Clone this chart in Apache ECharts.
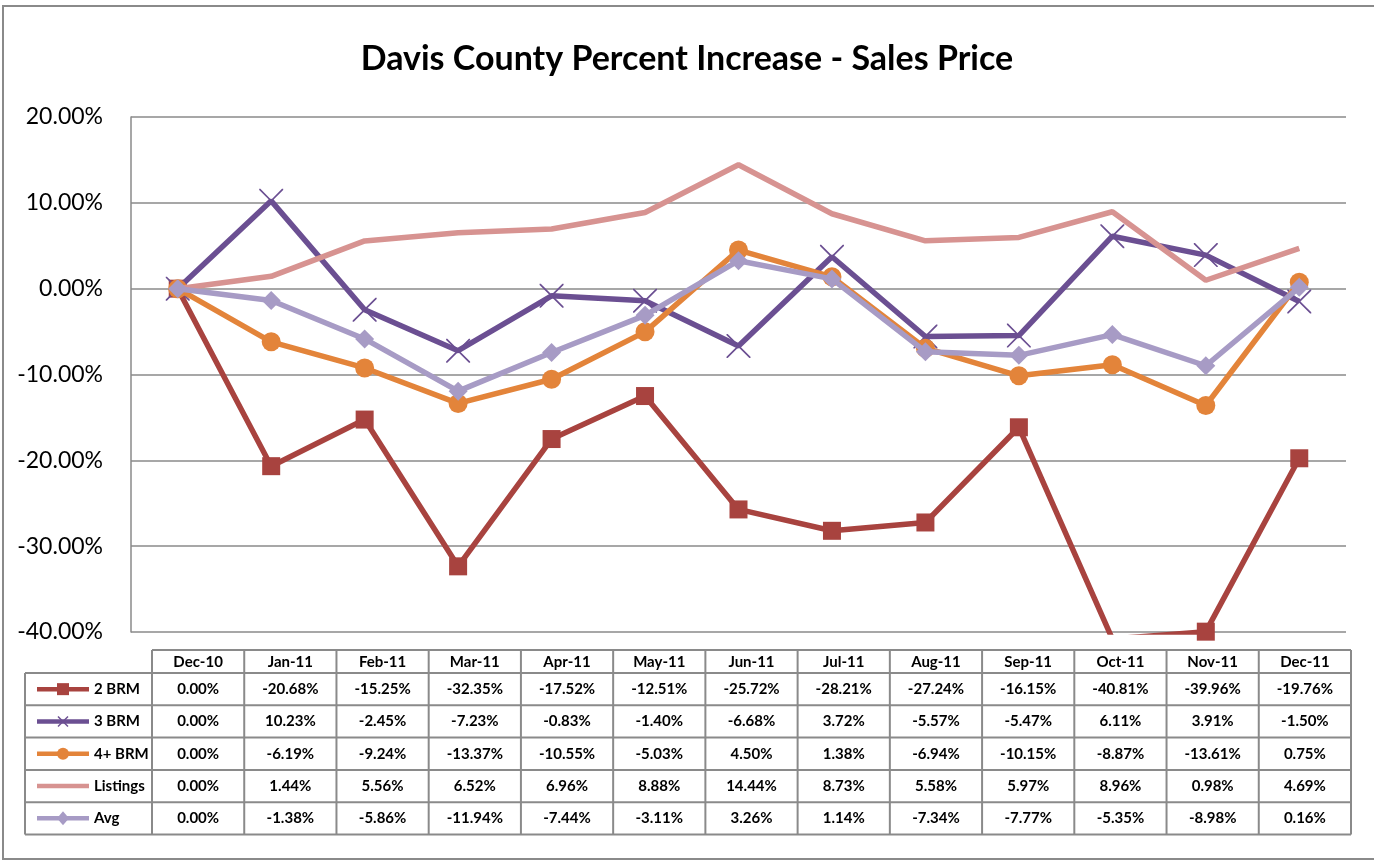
<!DOCTYPE html>
<html>
<head>
<meta charset="utf-8">
<title>Davis County Percent Increase - Sales Price</title>
<script src="https://cdn.jsdelivr.net/npm/echarts@6/dist/echarts.min.js"></script>
<style>
  html, body { margin: 0; padding: 0; background: #fff; }
  #chart { width: 1374px; height: 867px; }
</style>
</head>
<body>
<div id="chart"></div>
<script>
// data (the table under the chart)
var months = ['Dec-10','Jan-11','Feb-11','Mar-11','Apr-11','May-11','Jun-11','Jul-11','Aug-11','Sep-11','Oct-11','Nov-11','Dec-11'];
var brm2 = [0.00,-20.68,-15.25,-32.35,-17.52,-12.51,-25.72,-28.21,-27.24,-16.15,-40.81,-39.96,-19.76];
var brm3 = [0.00,10.23,-2.45,-7.23,-0.83,-1.40,-6.68,3.72,-5.57,-5.47,6.11,3.91,-1.50];
var brm4 = [0.00,-6.19,-9.24,-13.37,-10.55,-5.03,4.50,1.38,-6.94,-10.15,-8.87,-13.61,0.75];
var listings = [0.00,1.44,5.56,6.52,6.96,8.88,14.44,8.73,5.58,5.97,8.96,0.98,4.69];
var avg = [0.00,-1.38,-5.86,-11.94,-7.44,-3.11,3.26,1.14,-7.34,-7.77,-5.35,-8.98,0.16];

var seriesNames = ['2 BRM','3 BRM','4+ BRM','Listings','Avg'];
var seriesColors = ['#A8433F','#6B4F92','#E3843A','#D79391','#A79BC5'];
var seriesSymbols = ['rect',
  'path://M0,0L1,0L10,9L19,0L20,0L20,1L11,10L20,19L20,20L19,20L10,11L1,20L0,20L0,19L9,10L0,1Z',
  'circle','none','diamond'];
var seriesSizes = [18, 24, 19, 0, 19];
var seriesData = [brm2, brm3, brm4, listings, avg];

var FONT = 'Lato';
var chart = echarts.init(document.getElementById('chart'));

var series = seriesNames.map(function (name, i) {
  return {
    name: name,
    type: 'line',
    data: seriesData[i],
    symbol: seriesSymbols[i],
    symbolSize: seriesSizes[i],
    showSymbol: seriesSymbols[i] !== 'none',
    clip: true,
    lineStyle: { color: seriesColors[i], width: 5.5 },
    itemStyle: { color: seriesColors[i], opacity: 1 },
    emphasis: { disabled: true },
    z: 3 + i
  };
});

var option = {
  animation: false,
  backgroundColor: '#fff',
  title: {
    text: 'Davis County Percent Increase - Sales Price',
    left: 'center',
    top: 37,
    textStyle: { fontFamily: FONT, fontWeight: 'bold', fontSize: 34, color: '#000' }
  },
  grid: { left: 131, right: 28, top: 117, bottom: 235 },
  xAxis: {
    type: 'category',
    data: months,
    boundaryGap: true,
    axisLine: { show: false },
    axisTick: { show: false },
    axisLabel: { show: false }
  },
  yAxis: {
    type: 'value',
    min: -40,
    max: 20,
    interval: 10,
    axisLine: { show: true, lineStyle: { color: '#8a8a8a', width: 1.5 } },
    axisTick: { show: false },
    axisLabel: {
      margin: 28,
      fontFamily: FONT,
      fontSize: 23,
      color: '#000',
      formatter: function (v) { return v.toFixed(2) + '%'; }
    },
    splitLine: { show: true, lineStyle: { color: '#8a8a8a', width: 1.5 } }
  },
  series: series
};
chart.setOption(option);

// data table underneath
var tableLeft = 25, colLeft = 152, tableRight = 1351;
var band = (tableRight - colLeft) / months.length;
var headTop = 650, headH = 23, rowH = 32.3;
var lineStyle = { stroke: '#8a8a8a', lineWidth: 2 };
var els = [];

// outer chart frame
els.push({ type: 'rect', shape: { x: 3, y: 6, width: 1380, height: 853 }, style: { fill: null, stroke: '#8a8a8a', lineWidth: 2 }, z: 1 });

var bodyTop = headTop + headH, bodyBottom = bodyTop + rowH * seriesNames.length;
els.push({ type: 'line', shape: { x1: colLeft, y1: headTop, x2: tableRight, y2: headTop }, style: lineStyle });
for (var r = 0; r <= seriesNames.length; r++) {
  var yy = bodyTop + r * rowH;
  els.push({ type: 'line', shape: { x1: tableLeft, y1: yy, x2: tableRight, y2: yy }, style: lineStyle });
}
els.push({ type: 'line', shape: { x1: tableLeft, y1: bodyTop, x2: tableLeft, y2: bodyBottom }, style: lineStyle });
for (var c = 0; c <= months.length; c++) {
  var xx = colLeft + c * band;
  els.push({ type: 'line', shape: { x1: xx, y1: headTop, x2: xx, y2: bodyBottom }, style: lineStyle });
}
var txt = function (x, y, s, align) {
  return { type: 'text', x: x, y: y, style: { text: s, fontFamily: FONT, fontWeight: 'bold', fontSize: 15, fill: '#000', align: align || 'center', verticalAlign: 'middle' } };
};
months.forEach(function (m, i) {
  els.push(txt(colLeft + (i + 0.5) * band, headTop + headH / 2 + 1, m));
});
seriesNames.forEach(function (name, r) {
  var cy = bodyTop + (r + 0.5) * rowH;
  var col = seriesColors[r];
  els.push({ type: 'line', shape: { x1: 37, y1: cy, x2: 89, y2: cy }, style: { stroke: col, lineWidth: 4.5 } });
  if (r === 0) els.push({ type: 'rect', shape: { x: 57, y: cy - 6, width: 12, height: 12 }, style: { fill: col } });
  if (r === 1) {
    els.push({ type: 'line', shape: { x1: 58, y1: cy - 5, x2: 68, y2: cy + 5 }, style: { stroke: col, lineWidth: 1.5 } });
    els.push({ type: 'line', shape: { x1: 68, y1: cy - 5, x2: 58, y2: cy + 5 }, style: { stroke: col, lineWidth: 1.5 } });
  }
  if (r === 2) els.push({ type: 'circle', shape: { cx: 63, cy: cy, r: 6 }, style: { fill: col } });
  if (r === 4) els.push({ type: 'polygon', shape: { points: [[63, cy - 7], [69, cy], [63, cy + 7], [57, cy]] }, style: { fill: col } });
  els.push(txt(94, cy, name, 'left'));
  seriesData[r].forEach(function (v, i) {
    els.push(txt(colLeft + (i + 0.5) * band, cy, v.toFixed(2) + '%'));
  });
});
chart.setOption({ graphic: { elements: els } });
</script>
</body>
</html>
